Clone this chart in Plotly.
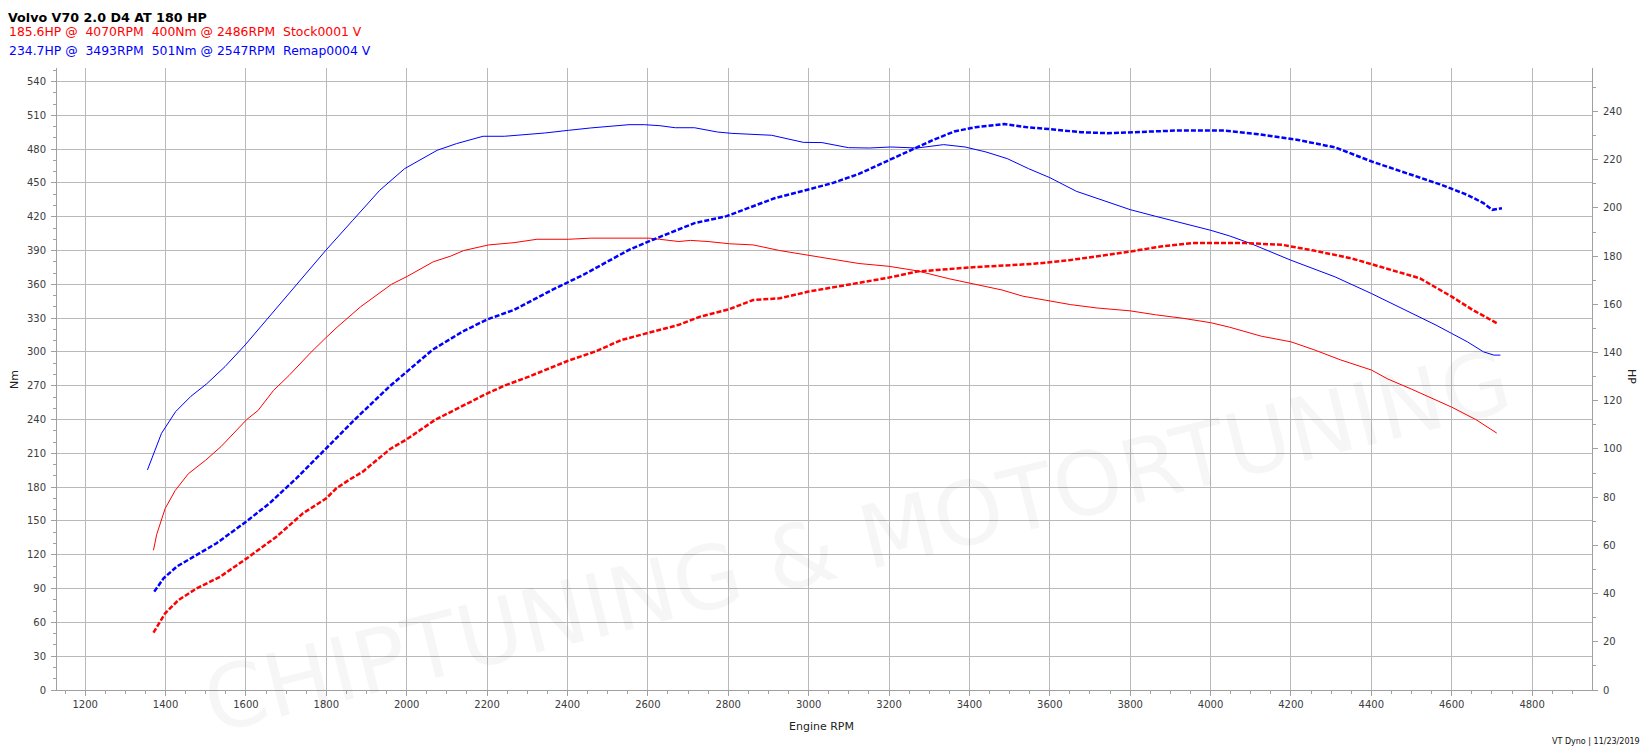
import plotly.graph_objects as go

# ---------------- data ----------------
stock_nm_rpm = [1370, 1378, 1399, 1424, 1457, 1500, 1538, 1577, 1602, 1630, 1669, 1707, 1760, 1800, 1827,
                1885, 1962, 2001, 2066, 2109, 2142, 2204, 2267, 2324, 2403, 2458, 2550, 2603, 2629, 2677,
                2706, 2750, 2803, 2862, 2928, 3000, 3125, 3200, 3270, 3349, 3400, 3481, 3533, 3600, 3652,
                3718, 3800, 3863, 3929, 4000, 4047, 4126, 4200, 4257, 4323, 4400, 4441, 4500, 4600, 4660, 4712]
stock_nm = [124, 138, 161, 177, 192, 204, 216, 231, 240, 248, 266, 279, 299, 313, 322,
            340, 360, 367, 380, 385, 390, 395, 397, 400, 400, 401, 401, 401, 400, 398,
            399, 398, 396, 395, 390, 386, 378.5, 376, 372, 365, 361, 355, 349.5, 345, 342,
            339, 336.5, 333, 330, 326, 322, 314, 309, 302, 293, 284, 276, 267, 251, 240, 228]

stock_hp_rpm = [1370, 1399, 1432, 1478, 1536, 1602, 1676, 1742, 1800, 1825, 1856, 1891, 1959, 2000, 2070,
                2139, 2201, 2245, 2304, 2400, 2469, 2534, 2603, 2677, 2730, 2803, 2862, 2928, 3000, 3125,
                3200, 3270, 3400, 3560, 3652, 3800, 3876, 3955, 4086, 4178, 4257, 4350, 4442, 4521, 4600,
                4652, 4712]
stock_hp = [23.8, 31.8, 37.3, 42.2, 47.0, 54.6, 63.6, 73.3, 79.5, 83.7, 87.1, 90.6, 100.0, 104.0, 112.0,
            117.9, 123.1, 126.4, 130.0, 136.5, 140.4, 145.2, 148.3, 151.5, 154.9, 158.0, 161.8, 162.5, 165.3, 168.8,
            171.1, 173.6, 175.3, 176.8, 178.4, 181.9, 184.0, 185.4, 185.4, 184.7, 182.3, 179.1, 174.6, 170.8, 163.2,
            157.7, 152.2]

remap_nm_rpm = [1355, 1370, 1390, 1425, 1463, 1502, 1548, 1598, 1645, 1688, 1713, 1799, 1866, 1933, 1995,
                2038, 2076, 2124, 2190, 2243, 2343, 2403, 2458, 2553, 2591, 2630, 2668, 2716, 2773, 2809,
                2908, 2987, 3033, 3099, 3152, 3204, 3270, 3336, 3389, 3441, 3494, 3547, 3600, 3666, 3745,
                3800, 3863, 3929, 4000, 4047, 4100, 4200, 4310, 4400, 4495, 4561, 4600, 4639, 4679, 4705, 4721]
remap_nm = [195.3, 208.6, 227.8, 247.0, 260.6, 271.6, 287.0, 306.2, 326.0, 344.0, 355.0, 390.3, 416.9, 443.5, 462.7,
            471.6, 479.0, 484.9, 491.4, 491.4, 494.3, 496.7, 498.8, 501.7, 501.7, 500.8, 499.0, 499.0, 495.2, 494.0,
            492.3, 486.0, 485.8, 481.3, 481.0, 481.9, 481.0, 484.0, 481.9, 477.5, 471.6, 462.7, 454.7, 442.6, 432.6,
            426.3, 420.4, 414.5, 408.0, 403.0, 396.2, 381.4, 366.6, 351.9, 335.6, 323.8, 316.4, 309.0, 300.1, 297.2, 297.2]

remap_hp_rpm = [1372, 1395, 1428, 1478, 1527, 1601, 1659, 1726, 1800, 1874, 1957, 1999, 2064, 2139, 2201,
                2267, 2304, 2362, 2439, 2506, 2553, 2611, 2716, 2796, 2915, 2980, 3059, 3125, 3191, 3257,
                3310, 3362, 3415, 3487, 3547, 3600, 3678, 3744, 3823, 3915, 4034, 4113, 4218, 4310, 4402,
                4495, 4574, 4639, 4679, 4701, 4725]
remap_hp = [40.8, 46.3, 51.2, 56.0, 60.9, 69.9, 77.5, 87.9, 100.3, 112.7, 125.9, 131.8, 141.1, 148.7, 153.8,
            157.7, 161.0, 166.0, 172.2, 178.4, 182.6, 186.7, 193.7, 196.6, 204.0, 206.8, 210.3, 214.1, 219.2, 224.4,
            228.2, 231.7, 233.5, 234.8, 233.4, 232.7, 231.4, 231.0, 231.4, 232.1, 232.1, 230.7, 228.2, 225.1, 219.2,
            214.0, 209.6, 205.4, 202.0, 199.2, 199.9]

title_text = "Volvo V70 2.0 D4 AT 180 HP"
stock_text = "185.6HP @\u00a0 4070RPM\u00a0 400Nm @ 2486RPM\u00a0 Stock0001 V"
remap_text = "234.7HP @\u00a0 3493RPM\u00a0 501Nm @ 2547RPM\u00a0 Remap0004 V"
footer_text = "VT Dyno | 11/23/2019"
watermark_text = "CHIPTUNING &amp; MOTORTUNING"

# ---------------- layout geometry ----------------
# the page body adds an 8px offset; target window coordinates are converted to figure coordinates
OFF = 8
W, H = 1640, 746
ML, MR, MT, MB = 49, 56, 60, 64
PW, PH = W - ML - MR, H - MT - MB
NM_MAX = 552
HP_MAX = NM_MAX * 1.1265 / 2.4097

RED, BLUE = "#ff0000", "#0000ff"
GRID = "#b9b9b9"
AXC = "#a0a0a0"
TXT = "#3c3c3c"
FONT = "DejaVu Sans"


def px(xw):
    return (xw - OFF - ML) / PW


def py(yw):
    return (H - MB - (yw - OFF)) / PH


fig = go.Figure()
fig.add_trace(go.Scatter(x=stock_nm_rpm, y=stock_nm, mode="lines", yaxis="y",
                         line=dict(color=RED, width=1), hoverinfo="skip"))
fig.add_trace(go.Scatter(x=remap_nm_rpm, y=remap_nm, mode="lines", yaxis="y",
                         line=dict(color=BLUE, width=1), hoverinfo="skip"))
fig.add_trace(go.Scatter(x=stock_hp_rpm, y=stock_hp, mode="lines", yaxis="y2",
                         line=dict(color=RED, width=2.5, dash="5px,2px"), hoverinfo="skip"))
fig.add_trace(go.Scatter(x=remap_hp_rpm, y=remap_hp, mode="lines", yaxis="y2",
                         line=dict(color=BLUE, width=2.5, dash="5px,2px"), hoverinfo="skip"))

tickfont = dict(family=FONT, size=10, color=TXT)

fig.update_layout(
    width=W, height=H,
    margin=dict(l=ML, r=MR, t=MT, b=MB, pad=0),
    paper_bgcolor="white", plot_bgcolor="white",
    showlegend=False,
    xaxis=dict(range=[1130, 4949], tick0=1200, dtick=200, showgrid=True, gridcolor=GRID, gridwidth=1,
               showline=True, linecolor=AXC, linewidth=1, ticks="outside", ticklen=5, tickcolor=AXC,
               minor=dict(tick0=1200, dtick=50, ticks="outside", ticklen=3, tickcolor=AXC, showgrid=False),
               tickfont=tickfont, zeroline=False, fixedrange=True),
    yaxis=dict(range=[0, NM_MAX], tick0=0, dtick=30, showgrid=True, gridcolor=GRID, gridwidth=1,
               showline=True, linecolor=AXC, linewidth=1, ticks="outside", ticklen=5, tickcolor=AXC,
               minor=dict(tick0=0, dtick=10, ticks="outside", ticklen=3, tickcolor=AXC, showgrid=False),
               tickfont=tickfont, zeroline=False, fixedrange=True, ticklabelstandoff=3),
    yaxis2=dict(range=[0, HP_MAX], tick0=0, dtick=20, overlaying="y", side="right", showgrid=False,
                showline=True, linecolor=AXC, linewidth=1, ticks="outside", ticklen=5, tickcolor=AXC,
                minor=dict(tick0=0, dtick=10, ticks="outside", ticklen=3, tickcolor=AXC),
                tickfont=tickfont, zeroline=False, fixedrange=True, ticklabelstandoff=3),
)

ann = []
# faint watermark
ann.append(dict(text=watermark_text, x=px(857), y=py(756), xref="paper", yref="paper",
                showarrow=False, textangle=-14, font=dict(family="DejaVu Sans", size=88,
                                                          color="rgba(0,0,0,0.035)")))

# header lines
ann.append(dict(text="<b>" + title_text + "</b>", x=px(7), y=py(OFF + 0.5), xref="paper", yref="paper",
                xanchor="left", yanchor="top", showarrow=False, borderpad=0,
                font=dict(family=FONT, size=12.7, color="#000000")))
ann.append(dict(text=stock_text, x=px(7), y=py(31.8), xref="paper", yref="paper",
                xanchor="left", yanchor="middle", showarrow=False,
                font=dict(family=FONT, size=12.4, color=RED)))
ann.append(dict(text=remap_text, x=px(7), y=py(50.4), xref="paper", yref="paper",
                xanchor="left", yanchor="middle", showarrow=False,
                font=dict(family=FONT, size=12.4, color=BLUE)))
# axis titles
ann.append(dict(text="Engine RPM", x=px(821), y=py(726.5), xref="paper", yref="paper",
                xanchor="center", yanchor="middle", showarrow=False,
                font=dict(family=FONT, size=11, color="#222222")))
ann.append(dict(text="Nm", x=px(14), y=py(380), xref="paper", yref="paper", textangle=-90,
                xanchor="center", yanchor="middle", showarrow=False,
                font=dict(family=FONT, size=11, color="#222222")))
ann.append(dict(text="HP", x=px(1632), y=py(376), xref="paper", yref="paper", textangle=90,
                xanchor="center", yanchor="middle", showarrow=False,
                font=dict(family=FONT, size=11, color="#222222")))
ann.append(dict(text=footer_text, x=px(1642), y=py(741.5), xref="paper", yref="paper",
                xanchor="right", yanchor="middle", showarrow=False,
                font=dict(family=FONT, size=8, color="#111111")))

fig.update_layout(annotations=ann)
fig.write_html("out.html")
